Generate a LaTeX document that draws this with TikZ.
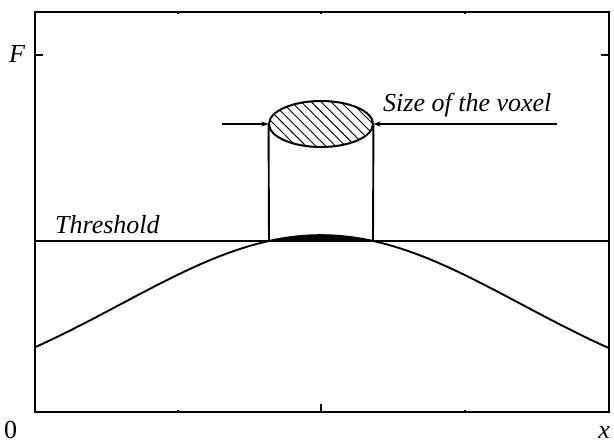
\documentclass[tikz,border=0pt]{standalone}
\usepackage{fontspec}
\setmainfont{Liberation Serif}
\usetikzlibrary{shapes.geometric,patterns.meta,arrows.meta}
\begin{document}
\begin{tikzpicture}[x=1pt,y=-1pt,
  lbl/.style={inner sep=0pt,font=\fontsize{26}{30}\selectfont\itshape},
  frame/.style={line width=2pt},
  thick line/.style={line width=1.9pt},
  tip/.style={-{Stealth[length=7pt,width=5pt]},line width=1.2pt}]
\useasboundingbox (0,0) rectangle (614,444);
% frame
\draw[frame] (35,12) rectangle (609,412);
% ticks
\draw[line width=1.2pt] (35,55) -- (43,55) (609,55) -- (601,55);
\draw[line width=1.2pt] (321,412) -- (321,404);
\foreach \t in {178,465} \draw[line width=1.5pt] (\t,412) -- (\t,410);
\foreach \t in {178,321,465} \draw[line width=1.5pt] (\t,12) -- (\t,14);
% labels
\node[lbl,anchor=base west] (F) at (9,63) {F};
\node[lbl,anchor=base west,font=\fontsize{26}{30}\selectfont] (zero) at (4,438) {0};
\node[lbl,anchor=base east] (xl) at (610,438) {x};
% threshold
\draw[line width=1.6pt] (35,241) -- (609,241);
\node[lbl,anchor=base west] (thr) at (55,233) {Threshold};
% black cap
\fill[black] plot[domain=269:373,samples=40] (\x,{234.8+175*(1-exp(-0.5*((\x-321)/200)^2))}) -- cycle;
% curve
\draw[thick line] plot[domain=35:609,samples=120,smooth] (\x,{235.2+175*(1-exp(-0.5*((\x-321)/200)^2))});
% cylinder
\coordinate (bl) at (269,241);
\coordinate (br) at (373,241);
\node[ellipse,draw,line width=2pt,minimum width=104pt,minimum height=46pt,inner sep=0pt,
      pattern={Lines[angle=-45,distance=7pt,line width=0.9pt]}] (top) at (321,124) {};
\draw[thick line] (bl) -- (top.west) (br) -- (top.east);
% arrows
\coordinate (la) at (222,124);
\coordinate (ra) at (557,124);
\draw[tip] (la) -- (top.west);
\draw[tip] (ra) -- (top.east);
\node[lbl,anchor=base west] (size) at (383,112) {Size of the voxel};
\end{tikzpicture}
\end{document}
